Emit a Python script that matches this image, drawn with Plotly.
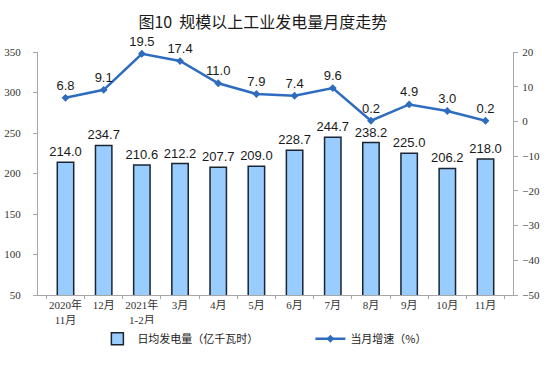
import plotly.graph_objects as go

categories = ["2020年<br>11月", "12月", "2021年<br>1-2月", "3月", "4月", "5月",
              "6月", "7月", "8月", "9月", "10月", "11月"]
daily_output = [214.0, 234.7, 210.6, 212.2, 207.7, 209.0, 228.7, 244.7, 238.2, 225.0, 206.2, 218.0]
growth_rate = [6.8, 9.1, 19.5, 17.4, 11.0, 7.9, 7.4, 9.6, 0.2, 4.9, 3.0, 0.2]

left_ticks = [50, 100, 150, 200, 250, 300, 350]
right_ticks = [-50, -40, -30, -20, -10, 0, 10, 20]

tick_font = dict(family="Liberation Serif, Noto Sans CJK SC", size=11, color="#333333")
label_font = dict(family="Liberation Sans, Arial", size=13, color="#1a1a1a")

fig = go.Figure()
fig.add_trace(go.Bar(
    x=categories, y=daily_output, name="日均发电量（亿千瓦时）",
    marker=dict(color="#99ccff", line=dict(color="#1a2433", width=1.5)),
    width=0.43,
    text=[f"{v:.1f}" for v in daily_output], textposition="outside",
    textfont=label_font, cliponaxis=False, constraintext="none", textangle=0,
))
fig.add_trace(go.Scatter(
    x=categories, y=growth_rate, name="当月增速（%）", yaxis="y2",
    mode="lines+markers+text",
    line=dict(color="#2e6cc0", width=2.5),
    marker=dict(symbol="diamond", size=6, color="#2e6cc0"),
    text=[f"{v:.1f}" for v in growth_rate], textposition="top center",
    textfont=label_font, cliponaxis=False,
))

axis_common = dict(showline=True, linecolor="#a6a6a6", linewidth=1, tickcolor="#a6a6a6",
                   showgrid=False, zeroline=False, automargin=False)

fig.update_layout(
    width=550, height=371,
    margin=dict(l=38, r=37, t=52, b=76),
    paper_bgcolor="white", plot_bgcolor="white",
    hovermode=False,
    title=dict(text="图10  规模以上工业发电量月度走势", x=0.478, xanchor="center", y=0.94, yanchor="middle",
               font=dict(family="Noto Sans CJK SC", size=16, color="#1a1a1a")),
    xaxis=dict(**axis_common, ticks="outside", tickson="boundaries", ticklen=3,
               tickfont=dict(family="Liberation Serif, Noto Sans CJK SC", size=11, color="#333333"),
               tickangle=0),
    yaxis=dict(**axis_common, range=[50, 350], tickvals=left_ticks, ticks="outside", ticklen=4,
               tickfont=tick_font, ticklabelstandoff=10),
    yaxis2=dict(**axis_common, range=[-50, 20], tickvals=right_ticks, overlaying="y", side="right",
                ticks="outside", ticklen=4, tickfont=tick_font, ticklabelstandoff=2),
    legend=dict(orientation="h", x=0.125, xanchor="left", y=-0.18, yanchor="middle",
                font=dict(family="Noto Sans CJK SC", size=11, color="#1a1a1a"),
                entrywidth=168, itemwidth=30, traceorder="normal"),
)

fig.write_html("out.html", config={"displayModeBar": False},
               post_script="document.body.style.margin='0';")
